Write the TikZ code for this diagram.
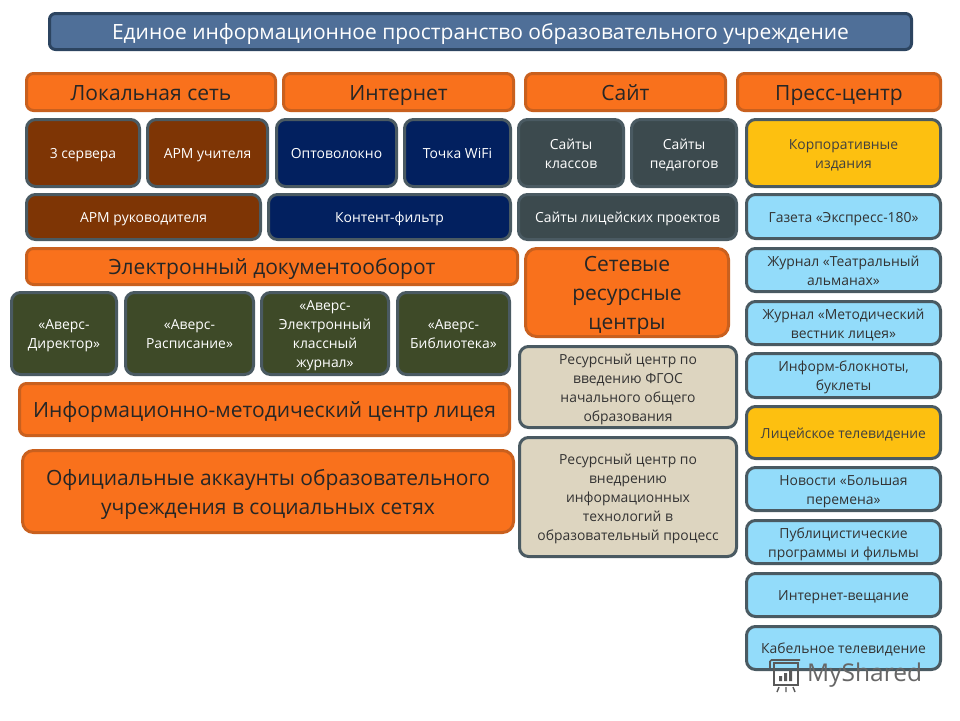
\documentclass[tikz,border=0pt]{standalone}
\usepackage{fontspec}
\setmainfont{Open Sans}
\definecolor{ttl}{HTML}{4F6F98}
\definecolor{ttlb}{HTML}{2C4460}
\definecolor{org}{HTML}{F9711C}
\definecolor{orgb}{HTML}{C9601E}
\definecolor{brn}{HTML}{7E3505}
\definecolor{nvy}{HTML}{02205F}
\definecolor{dgr}{HTML}{3C4A4E}
\definecolor{grn}{HTML}{3E4A28}
\definecolor{yel}{HTML}{FDC010}
\definecolor{lbl}{HTML}{93DCFA}
\definecolor{bei}{HTML}{DDD5C0}
\definecolor{edge}{HTML}{4A5A62}
\tikzset{
 x=1pt,y=-1pt,
 bx/.style={draw=edge,line width=3pt,rounded corners=9pt,align=center,inner sep=0pt,text=white,font=\fontsize{13.9}{19}\selectfont},
 ttlbox/.style={bx,fill=ttl,draw=ttlb,rounded corners=6pt,font=\fontsize{21}{24}\selectfont},
 orgbox/.style={bx,fill=org,draw=orgb,rounded corners=7pt,text=black!85,font=\fontsize{21}{24}\selectfont},
 orgbig/.style={orgbox,rounded corners=11pt,font=\fontsize{21}{29}\selectfont},
 brnbox/.style={bx,fill=brn},
 nvybox/.style={bx,fill=nvy},
 dgrbox/.style={bx,fill=dgr},
 grnbox/.style={bx,fill=grn},
 yelbox/.style={bx,fill=yel,text=black!75},
 lblbox/.style={bx,fill=lbl,text=black!80},
 beibox/.style={bx,fill=bei,text=black!80},
 wmark/.style={inner sep=0pt,text=black!60,font=\fontsize{24.5}{25}\selectfont},
}
\newcommand{\bxx}[7]{%
 \pgfmathsetmacro{\bxw}{#4-#2-3}\pgfmathsetmacro{\bxh}{#5-#3-3}%
 \pgfmathsetmacro{\bxcx}{(#2+#4)/2}\pgfmathsetmacro{\bxcy}{(#3+#5)/2}%
 \node[#6,minimum width=\bxw pt,minimum height=\bxh pt] (#1) at (\bxcx,\bxcy) {\rule{0pt}{1.1em}#7\rule[-0.3em]{0pt}{0.3em}};}
\begin{document}
\begin{tikzpicture}
\useasboundingbox (0,0) rectangle (960,720);
\fill[white] (0,0) rectangle (960,720);
\bxx{title}{48}{12}{913}{51}{ttlbox}{Единое информационное пространство образовательного учреждение}
\bxx{h1}{25}{72}{277}{112}{orgbox}{Локальная сеть}
\bxx{h2}{282}{72}{515}{112}{orgbox}{Интернет}
\bxx{h3}{524}{72}{727}{112}{orgbox}{Сайт}
\bxx{h4}{736}{72}{942}{112}{orgbox}{Пресс-центр}
\bxx{a1}{25}{118}{141}{188}{brnbox}{3 сервера}
\bxx{a2}{146}{118}{269}{188}{brnbox}{АРМ учителя}
\bxx{a3}{275}{118}{398}{188}{nvybox}{Оптоволокно}
\bxx{a4}{403}{118}{512}{188}{nvybox}{Точка WiFi}
\bxx{a5}{517}{118}{625}{188}{dgrbox}{Сайты\\классов}
\bxx{a6}{630}{118}{738}{188}{dgrbox}{Сайты\\педагогов}
\bxx{a7}{745}{118}{942}{188}{yelbox}{Корпоративные\\издания}
\bxx{b1}{25}{193}{262}{241}{brnbox}{АРМ руководителя}
\bxx{b2}{267}{193}{512}{241}{nvybox}{Контент-фильтр}
\bxx{b3}{517}{193}{738}{241}{dgrbox}{Сайты лицейских проектов}
\bxx{b4}{745}{193}{942}{240}{lblbox}{Газета «Экспресс-180»}
\bxx{c1}{25}{247}{519}{286}{orgbox}{Электронный документооборот}
\bxx{c2}{524}{247}{730}{338}{orgbig}{Сетевые\\ресурсные\\центры}
\bxx{d1}{10}{291}{118}{376}{grnbox}{«Аверс-\\Директор»}
\bxx{d2}{124}{291}{255}{376}{grnbox}{«Аверс-\\Расписание»}
\bxx{d3}{260}{291}{390}{376}{grnbox}{«Аверс-\\Электронный\\классный\\журнал»}
\bxx{d4}{396}{291}{511}{376}{grnbox}{«Аверс-\\Библиотека»}
\bxx{e1}{18}{382}{511}{437}{orgbox}{Информационно-методический центр лицея}
\bxx{e2}{21}{449}{515}{534}{orgbig}{Официальные аккаунты образовательного\\учреждения в социальных сетях}
\bxx{f1}{518}{345}{738}{429}{beibox}{Ресурсный центр по\\введению ФГОС\\начального общего\\образования}
\bxx{f2}{518}{436}{738}{558}{beibox}{Ресурсный центр по\\внедрению\\информационных\\технологий в\\образовательный процесс}
\bxx{g1}{745}{247}{942}{293}{lblbox}{Журнал «Театральный\\альманах»}
\bxx{g2}{745}{300}{942}{346}{lblbox}{Журнал «Методический\\вестник лицея»}
\bxx{g3}{745}{352}{942}{399}{lblbox}{Информ-блокноты,\\буклеты}
\bxx{g4}{745}{405}{942}{460}{yelbox}{Лицейское телевидение}
\bxx{g5}{745}{466}{942}{512}{lblbox}{Новости «Большая\\перемена»}
\bxx{g6}{745}{519}{942}{565}{lblbox}{Публицистические\\программы и фильмы}
\bxx{g7}{745}{572}{942}{618}{lblbox}{Интернет-вещание}
\bxx{g8}{745}{625}{942}{671}{lblbox}{Кабельное телевидение}
\node[wmark,anchor=west] (wm) at (807,675) {MyShared};
\draw[black!65,line width=1.6pt] (774,663) rectangle (798,685);
\draw[black!65,line width=1.6pt,rounded corners=1.5pt] (770,668) -- (770,660) -- (800,660);
\fill[black!65] (779,676) rectangle (782,681) (784,673) rectangle (787,681) (789,670) rectangle (792,681);
\draw[black!65,line width=1.4pt] (779,687) -- (777,692) (786,687) -- (786,692) (793,687) -- (795,692);
\end{tikzpicture}
\end{document}
